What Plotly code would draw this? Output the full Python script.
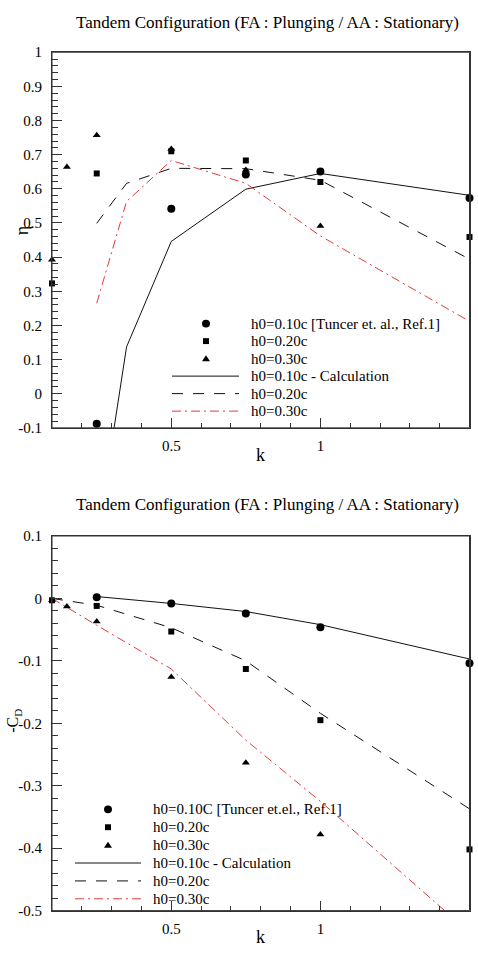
import plotly.graph_objects as go

# ---------------- data ----------------
# Top panel: propulsive efficiency eta vs reduced frequency k
eta_exp_k_h10 = [0.25, 0.5, 0.75, 1.0, 1.5]
eta_exp_h10 = [-0.088, 0.542, 0.642, 0.651, 0.573]
eta_exp_k_h20 = [0.1, 0.25, 0.5, 0.75, 1.0, 1.5]
eta_exp_h20 = [0.323, 0.645, 0.710, 0.683, 0.620, 0.459]
eta_exp_k_h30 = [0.1, 0.15, 0.25, 0.5, 0.75, 1.0]
eta_exp_h30 = [0.392, 0.664, 0.757, 0.717, 0.655, 0.491]

eta_calc_k = [0.25, 0.35, 0.5, 0.75, 1.0, 1.5]
eta_calc_h10 = [-0.43, 0.137, 0.446, 0.599, 0.645, 0.581]
eta_calc_h20 = [0.499, 0.616, 0.660, 0.659, 0.625, 0.394]
eta_calc_h30 = [0.265, 0.563, 0.683, 0.616, 0.462, 0.212]

# Bottom panel: -C_D vs k
cd_exp_k_h10 = [0.25, 0.5, 0.75, 1.0, 1.5]
cd_exp_h10 = [0.002, -0.008, -0.024, -0.046, -0.104]
cd_exp_k_h20 = [0.1, 0.25, 0.5, 0.75, 1.0, 1.5]
cd_exp_h20 = [-0.003, -0.012, -0.053, -0.113, -0.195, -0.402]
cd_exp_k_h30 = [0.1, 0.15, 0.25, 0.5, 0.75, 1.0]
cd_exp_h30 = [-0.003, -0.013, -0.037, -0.126, -0.263, -0.378]

cd_calc_k_h10 = [0.25, 0.5, 0.75, 1.0, 1.5]
cd_calc_h10 = [0.003, -0.008, -0.021, -0.042, -0.097]
cd_calc_k = [0.1, 0.25, 0.5, 0.75, 1.0, 1.5]
cd_calc_h20 = [0.0, -0.011, -0.047, -0.100, -0.184, -0.337]
cd_calc_h30 = [0.0, -0.043, -0.113, -0.227, -0.325, -0.535]

# ticks / labels
k_tickvals = [0.5, 1.0, 1.5]
k_ticktext = ["0.5", "1", "1.5"]
eta_tickvals = [1.0, 0.9, 0.8, 0.7, 0.6, 0.5, 0.4, 0.3, 0.2, 0.1, 0.0, -0.1]
eta_ticktext = ["1", "0.9", "0.8", "0.7", "0.6", "0.5", "0.4", "0.3", "0.2", "0.1", "0", "-0.1"]
cd_tickvals = [0.1, 0.0, -0.1, -0.2, -0.3, -0.4, -0.5]
cd_ticktext = ["0.1", "0", "-0.1", "-0.2", "-0.3", "-0.4", "-0.5"]

title_text = "Tandem Configuration (FA : Plunging / AA : Stationary)"
legend_top = ["h0=0.10c [Tuncer et. al., Ref.1]", "h0=0.20c", "h0=0.30c",
              "h0=0.10c - Calculation", "h0=0.20c", "h0=0.30c"]
legend_bot = ["h0=0.10C [Tuncer et.el., Ref.1]", "h0=0.20c", "h0=0.30c",
              "h0=0.10c - Calculation", "h0=0.20c", "h0=0.30c"]

# ---------------- styling ----------------
W, H = 478, 954
FONT = '"Liberation Serif", "Times New Roman", Times, "DejaVu Serif", serif'
RED = "#e23a3a"
INK = "#111111"
AXC = "#333333"
DASH = "11px,10px"
DASHDOT = "9px,4px,2px,4px"
MK = {"circle": 8, "square": 6, "triangle-up": 7}


def fx(px):
    return px / W


def fy(py):
    return 1 - py / H


fig = go.Figure()


def exp_trace(x, y, sym, xa, ya):
    fig.add_trace(go.Scatter(x=x, y=y, mode="markers", xaxis=xa, yaxis=ya,
                             marker=dict(symbol=sym, size=MK[sym], color="black",
                                         line=dict(width=0)),
                             showlegend=False, cliponaxis=False))


def calc_trace(x, y, color, dash, xa, ya):
    fig.add_trace(go.Scatter(x=x, y=y, mode="lines", xaxis=xa, yaxis=ya,
                             line=dict(color=color, width=1, dash=dash),
                             showlegend=False))


# top panel
calc_trace(eta_calc_k, eta_calc_h10, INK, "solid", "x", "y")
calc_trace(eta_calc_k, eta_calc_h20, INK, DASH, "x", "y")
calc_trace(eta_calc_k, eta_calc_h30, RED, DASHDOT, "x", "y")
exp_trace(eta_exp_k_h20, eta_exp_h20, "square", "x", "y")
exp_trace(eta_exp_k_h30, eta_exp_h30, "triangle-up", "x", "y")
exp_trace(eta_exp_k_h10, eta_exp_h10, "circle", "x", "y")

# bottom panel
calc_trace(cd_calc_k_h10, cd_calc_h10, INK, "solid", "x2", "y2")
calc_trace(cd_calc_k, cd_calc_h20, INK, DASH, "x2", "y2")
calc_trace(cd_calc_k, cd_calc_h30, RED, DASHDOT, "x2", "y2")
exp_trace(cd_exp_k_h20, cd_exp_h20, "square", "x2", "y2")
exp_trace(cd_exp_k_h30, cd_exp_h30, "triangle-up", "x2", "y2")
exp_trace(cd_exp_k_h10, cd_exp_h10, "circle", "x2", "y2")

# ---------------- hand-drawn legends (paper coords) ----------------
annotations = []
shapes = []


def legend_block(texts, marker_x, line_x0, line_x1, text_x, y0, dy):
    for i, t in enumerate(texts):
        yy = y0 + i * dy
        if i == 0:
            r = 4
            shapes.append(dict(type="circle", xref="paper", yref="paper",
                               x0=fx(marker_x - r), x1=fx(marker_x + r),
                               y0=fy(yy + r), y1=fy(yy - r),
                               fillcolor="black", line=dict(width=0)))
        elif i == 1:
            r = 3
            shapes.append(dict(type="rect", xref="paper", yref="paper",
                               x0=fx(marker_x - r), x1=fx(marker_x + r),
                               y0=fy(yy + r), y1=fy(yy - r),
                               fillcolor="black", line=dict(width=0)))
        elif i == 2:
            p = "M {:.5f},{:.5f} L {:.5f},{:.5f} L {:.5f},{:.5f} Z".format(
                fx(marker_x - 4), fy(yy + 2.6), fx(marker_x + 4), fy(yy + 2.6),
                fx(marker_x), fy(yy - 3.4))
            shapes.append(dict(type="path", xref="paper", yref="paper", path=p,
                               fillcolor="black", line=dict(width=0)))
        else:
            st = [("solid", INK), (DASH, INK), (DASHDOT, RED)][i - 3]
            shapes.append(dict(type="line", xref="paper", yref="paper",
                               x0=fx(line_x0), x1=fx(line_x1), y0=fy(yy), y1=fy(yy),
                               line=dict(color=st[1], width=1, dash=st[0])))
        annotations.append(dict(x=fx(text_x), y=fy(yy), xref="paper", yref="paper",
                                text=t, showarrow=False, xanchor="left",
                                yanchor="middle",
                                font=dict(family=FONT, size=15, color="black")))


legend_block(legend_top, 206, 172, 239, 249, 321, 17.8)
legend_block(legend_bot, 108, 75, 141, 151, 815, 18.2)


def ann(x, y, text, size, angle=0):
    annotations.append(dict(x=fx(x), y=fy(y), xref="paper", yref="paper", text=text,
                            showarrow=False, textangle=angle, xanchor="center",
                            yanchor="middle",
                            font=dict(family=FONT, size=size, color="black")))


ann(267, 15, title_text, 17)
ann(267, 505, title_text, 17)
ann(260, 455, "k", 18)
ann(260, 945, "k", 18)
ann(22, 227, "η", 18, -90)
ann(14, 725, "-C<sub>D</sub>", 16, -90)

# frames (box around each plot area)
for xr, yr in (("x domain", "y domain"), ("x2 domain", "y2 domain")):
    shapes.append(dict(type="rect", xref=xr, yref=yr, x0=0, x1=1, y0=0, y1=1,
                       line=dict(color=AXC, width=1), fillcolor="rgba(0,0,0,0)",
                       layer="above"))

axis_common = dict(showgrid=False, zeroline=False, showline=True, linecolor=AXC,
                   linewidth=1, mirror=True, ticks="inside", tickcolor=AXC,
                   tickwidth=1, tickfont=dict(family=FONT, size=15, color="black"))

xa = dict(axis_common, range=[0.1, 1.5], tickmode="array", tickvals=k_tickvals,
          ticktext=k_ticktext, ticklen=10, ticklabelstandoff=4,
          minor=dict(dtick=0.1, tick0=0, ticklen=5, ticks="inside", tickcolor=AXC))

fig.update_layout(
    width=W, height=H,
    margin=dict(l=0, r=0, t=0, b=0),
    paper_bgcolor="white", plot_bgcolor="white",
    xaxis=dict(xa, domain=[fx(52), fx(469.5)], anchor="y"),
    yaxis=dict(axis_common, domain=[fy(427), fy(45)], anchor="x", range=[-0.1, 1.0],
               tickmode="array", tickvals=eta_tickvals, ticktext=eta_ticktext,
               ticklen=10, ticklabelstandoff=6,
               minor=dict(dtick=0.02, tick0=0, ticklen=6, ticks="inside",
                          tickcolor=AXC)),
    xaxis2=dict(xa, domain=[fx(52), fx(469.5)], anchor="y2"),
    yaxis2=dict(axis_common, domain=[fy(918), fy(537)], anchor="x2", range=[-0.5, 0.1],
                tickmode="array", tickvals=cd_tickvals, ticktext=cd_ticktext,
                ticklen=10, ticklabelstandoff=6,
                minor=dict(dtick=0.02, tick0=0, ticklen=6, ticks="inside",
                           tickcolor=AXC)),
    annotations=annotations,
    shapes=shapes,
    showlegend=False,
)

fig.write_html("out.html",
               config={"displayModeBar": False},
               post_script="document.body.style.margin='0';"
                           "document.body.style.overflow='hidden';")
